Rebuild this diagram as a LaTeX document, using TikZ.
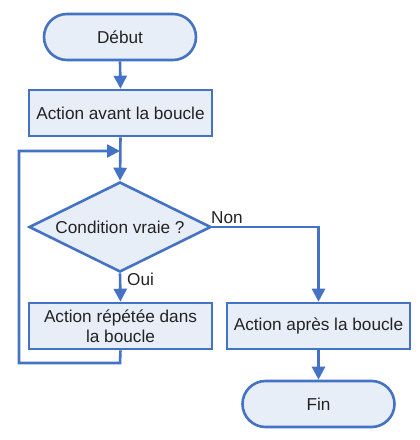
\documentclass[tikz,border=0pt]{standalone}
\usepackage{fontspec}
\setmainfont{Liberation Sans}
\usetikzlibrary{shapes.geometric,shapes.misc,arrows.meta}
\definecolor{bstroke}{HTML}{4472C4}
\definecolor{bfill}{HTML}{E8EEF8}
\definecolor{txt}{HTML}{222222}
\begin{document}
\begin{tikzpicture}[x=1pt,y=-1pt,
  every node/.style={font=\fontsize{17.2}{20}\selectfont, text=txt},
  base/.style={draw=bstroke, fill=bfill, line width=2.6pt, inner sep=0pt},
  term/.style={base, rounded rectangle, minimum width=152pt, minimum height=46pt},
  proc/.style={base, rectangle, minimum width=183pt, minimum height=46pt, align=center},
  deci/.style={base, diamond, aspect=2, minimum width=182pt, minimum height=90pt},
  conn/.style={draw=bstroke, line width=2.6pt, -{Triangle[width=13pt,length=13pt]}},
  plain/.style={draw=bstroke, line width=2.6pt},
  lbl/.style={font=\fontsize{17.2}{20}\selectfont, inner sep=0pt}
]
\useasboundingbox (0,0) rectangle (420,440);
\node[term] (debut) at (120,37) {Début};
\node[proc] (avant) at (120.5,113) {Action avant la boucle};
\node[deci] (cond) at (120,227) {Condition vraie ?};
\node[proc] (repete) at (120.5,326) {Action répétée dans\\[-0.5pt]la boucle};
\node[proc] (apres) at (318.5,326) {Action après la boucle};
\node[term] (fin) at (318.5,404) {Fin};

\coordinate (lb1) at (120,363);
\coordinate (lb2) at (19,363);
\coordinate (lb3) at (19,151);
\coordinate (lb4) at (120,151);

\draw[conn] (debut.south) -- (avant.north);
\draw[conn] (avant.south) -- (cond.north);
\draw[conn] (cond.south) -- (repete.north);
\draw[conn] (cond.east) -| (apres.north);
\draw[conn] (apres.south) -- (fin.north);
\draw[conn, line join=miter] (repete.south) -- (lb1) -- (lb2) -- (lb3) -- (lb4);

\node[lbl, anchor=west] (oui) at (127,279) {Oui};
\node[lbl, anchor=west] (non) at (211,218) {Non};
\end{tikzpicture}
\end{document}
